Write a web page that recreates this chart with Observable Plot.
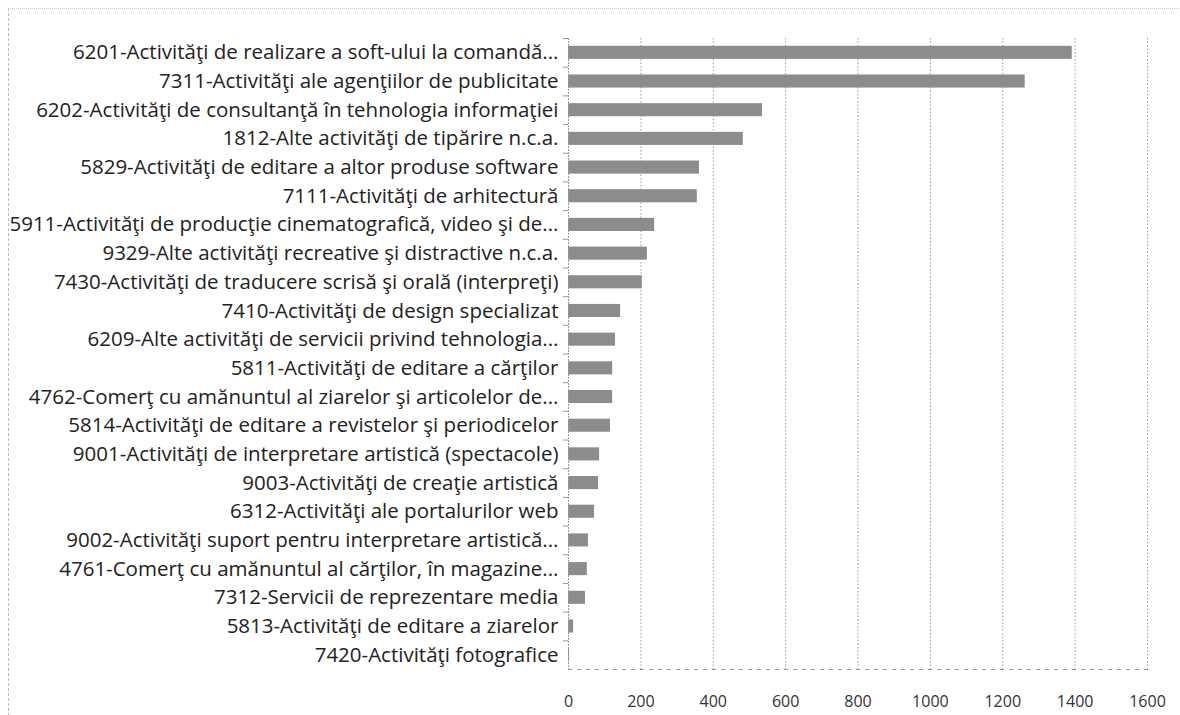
<!DOCTYPE html>
<html>
<head>
<meta charset="utf-8">
<script src="https://cdn.jsdelivr.net/npm/d3@7"></script>
<script src="https://cdn.jsdelivr.net/npm/@observablehq/plot@0.6"></script>
<style>
  html, body { margin: 0; padding: 0; background: #fff; }
  #chart { width: 1180px; height: 715px; position: relative; }
  #chart svg { display: block; }
  .frame { position: absolute; left: 8px; top: 8px; width: 1172px; height: 707px;
           border-left: 1px dashed #bbb; border-top: 1px dotted #ccc; pointer-events: none; }
</style>
</head>
<body>
<div id="chart"><div class="frame"></div></div>
<script>
const categories = [
  "6201-Activităţi de realizare a soft-ului la comandă...",
  "7311-Activităţi ale agenţiilor de publicitate",
  "6202-Activităţi de consultanţă în tehnologia informaţiei",
  "1812-Alte activităţi de tipărire n.c.a.",
  "5829-Activităţi de editare a altor produse software",
  "7111-Activităţi de arhitectură",
  "5911-Activităţi de producţie cinematografică, video şi de...",
  "9329-Alte activităţi recreative şi distractive n.c.a.",
  "7430-Activităţi de traducere scrisă şi orală (interpreţi)",
  "7410-Activităţi de design specializat",
  "6209-Alte activităţi de servicii privind tehnologia...",
  "5811-Activităţi de editare a cărţilor",
  "4762-Comerţ cu amănuntul al ziarelor şi articolelor de...",
  "5814-Activităţi de editare a revistelor şi periodicelor",
  "9001-Activităţi de interpretare artistică (spectacole)",
  "9003-Activităţi de creaţie artistică",
  "6312-Activităţi ale portalurilor web",
  "9002-Activităţi suport pentru interpretare artistică...",
  "4761-Comerţ cu amănuntul al cărţilor, în magazine...",
  "7312-Servicii de reprezentare media",
  "5813-Activităţi de editare a ziarelor",
  "7420-Activităţi fotografice"
];
const values = [1392, 1262, 536, 483, 362, 356, 238, 218, 204, 144, 130, 122, 122, 116, 86, 83, 72, 55, 52, 47, 14, 3];
const xTicks = [0, 200, 400, 600, 800, 1000, 1200, 1400, 1600];

const data = categories.map((c, i) => ({category: c, value: values[i]}));
const step = (715 - 38 - 46) / categories.length;

const chart = Plot.plot({
  width: 1180,
  height: 715,
  marginLeft: 568,
  marginRight: 33,
  marginTop: 38,
  marginBottom: 46,
  style: {fontFamily: "'Open Sans', sans-serif", background: "#fff", color: "#222"},
  x: {domain: [0, 1600], ticks: xTicks},
  y: {domain: categories, padding: 0, round: false},
  marks: [
    Plot.gridX(xTicks.slice(1), {stroke: "#999", strokeOpacity: 1, strokeDasharray: "1.5,2"}),
    Plot.barX(data, {x: "value", y: "category", fill: "#8c8c8c", insetTop: 7.8, insetBottom: 7.8}),
    Plot.ruleX([0], {stroke: "#999", strokeDasharray: "2,1"}),
    Plot.axisX({ticks: xTicks, tickFormat: d => String(d), tickSize: 0, tickPadding: 26, fontSize: 16, label: null, fill: "#333"}),
    Plot.axisY({tickSize: 0, tickPadding: 10, fontSize: 20.5, label: null, fill: "#222"}),
    Plot.axisY({tickSize: 5, tickFormat: () => "", dy: -step / 2, label: null, stroke: "#999"}),
    Plot.frame({anchor: "bottom", stroke: "#999", strokeDasharray: "3,6"})
  ]
});
document.getElementById("chart").appendChild(chart);
</script>
</body>
</html>
